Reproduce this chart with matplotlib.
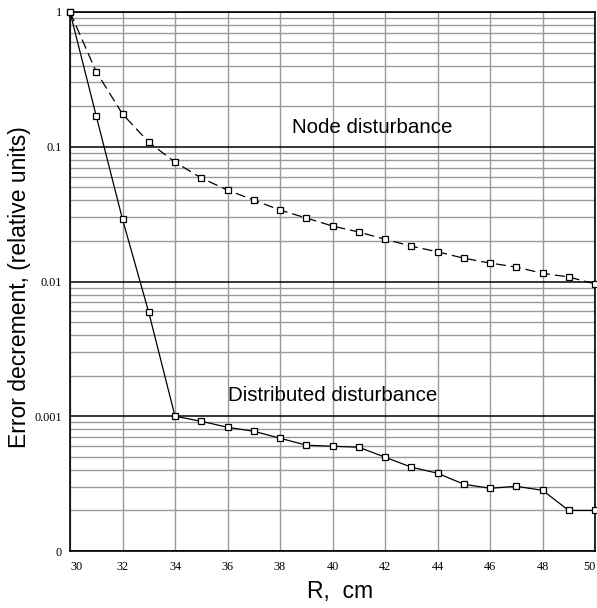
import matplotlib
matplotlib.use("Agg")
import matplotlib.pyplot as plt
from matplotlib.ticker import FixedLocator, FixedFormatter, LogLocator, NullFormatter

R = list(range(30, 51))
node = [1.0, 0.36, 0.175, 0.108, 0.0769, 0.0586, 0.0477, 0.0402, 0.0339, 0.0296,
        0.0258, 0.0233, 0.0206, 0.0183, 0.0166, 0.0149, 0.0137, 0.0128, 0.0115,
        0.0108, 0.0096]
distributed = [1.0, 0.169, 0.029, 0.0059, 0.001, 0.000918, 0.000828, 0.000774,
               0.000687, 0.00061, 0.000599, 0.000589, 0.000497, 0.000419,
               0.000378, 0.000313, 0.000292, 0.000302, 0.000282, 0.0002, 0.0002]
ytick_vals = [1e-4, 1e-3, 1e-2, 1e-1, 1]
ytick_labels = ["0", "0.001", "0.01", "0.1", "1"]
xtick_vals = list(range(30, 51, 2))

fig = plt.figure(figsize=(5.97, 6.08), dpi=100)
ax = fig.add_axes([70/597, 1 - 551/608, 525/597, 539/608])

ax.set_yscale("log")
ax.set_xlim(30, 50)
ax.set_ylim(1e-4, 1)

# grids
ax.yaxis.set_major_locator(FixedLocator(ytick_vals))
ax.yaxis.set_major_formatter(FixedFormatter(ytick_labels))
ax.yaxis.set_minor_locator(LogLocator(base=10, subs=range(2, 10)))
ax.yaxis.set_minor_formatter(NullFormatter())
ax.xaxis.set_major_locator(FixedLocator(xtick_vals))
ax.grid(True, which="major", axis="y", color="black", linewidth=1.1)
ax.grid(True, which="minor", axis="y", color="#999999", linewidth=1.0)
ax.grid(True, which="major", axis="x", color="#999999", linewidth=1.0)
ax.set_axisbelow(True)

ax.plot(R, node, color="black", linewidth=0.9, dashes=(8, 4),
        marker="s", markersize=4.3, markerfacecolor="white",
        markeredgecolor="black", markeredgewidth=0.9, clip_on=False, zorder=3)
ax.plot(R, distributed, color="black", linewidth=0.9,
        marker="s", markersize=4.3, markerfacecolor="white",
        markeredgecolor="black", markeredgewidth=0.9, clip_on=False, zorder=3)

for s in ax.spines.values():
    s.set_color("black")
    s.set_linewidth(1.2)

ax.tick_params(which="both", length=0)
ax.tick_params(axis="y", pad=6)
ax.tick_params(axis="x", pad=7)
for lab in ax.get_xticklabels() + ax.get_yticklabels():
    lab.set_fontfamily("Liberation Serif")
    lab.set_fontsize(8.8)
xl = ax.get_xticklabels()
xl[0].set_horizontalalignment("left")
xl[-1].set_horizontalalignment("right")

ax.text(38.45, 0.139, "Node disturbance", fontsize=14.8, family="Liberation Sans",
        ha="left", va="center")
ax.text(36.0, 0.00142, "Distributed disturbance", fontsize=14.8, family="Liberation Sans",
        ha="left", va="center")

ax.set_ylabel("Error decrement, (relative units)", fontsize=16.5,
              family="Liberation Sans")
ax.yaxis.set_label_coords((31 - 70) / 525, 0.49)
ax.set_xlabel("R,  cm", fontsize=16.5, family="Liberation Sans")
ax.xaxis.set_label_coords((340 - 70) / 525, (551 - 580) / 539)

fig.savefig("out.png", dpi=100)
